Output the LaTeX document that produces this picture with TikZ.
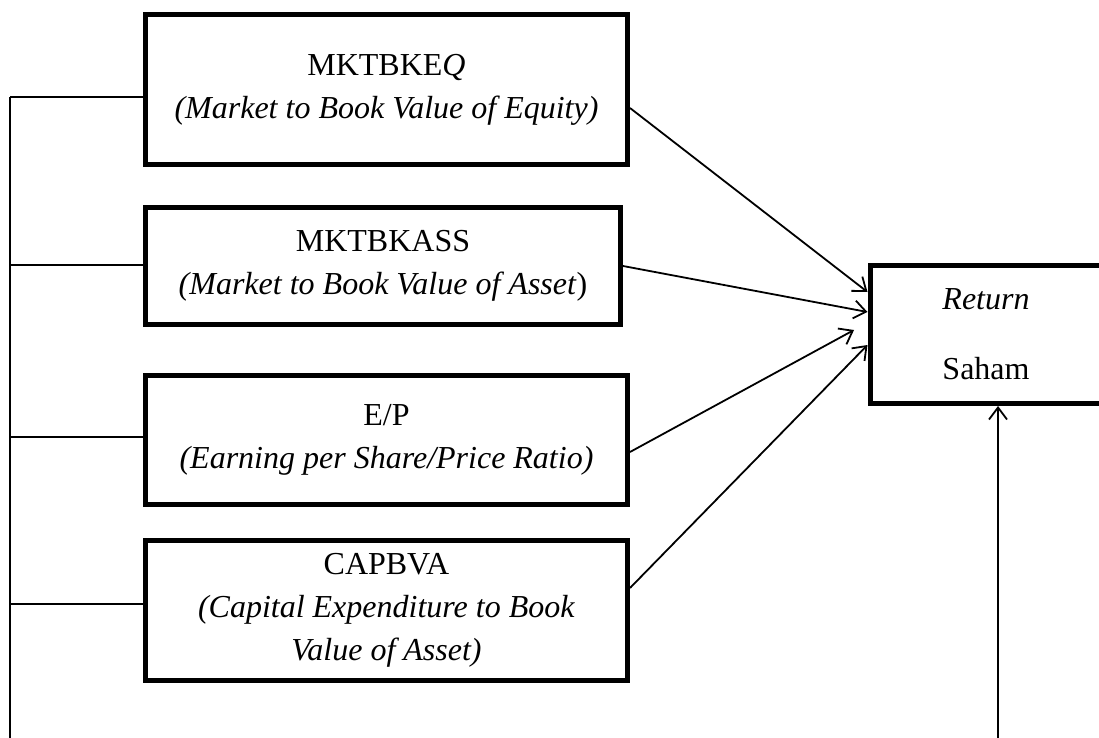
\documentclass[tikz,border=0pt]{standalone}
\usepackage{fontspec}
\setmainfont{Liberation Serif}
\usepackage{tikz}
\usetikzlibrary{arrows.meta}

\begin{document}
\begin{tikzpicture}[x=0.5pt,y=-0.5pt,
    varbox/.style={draw,line width=2.5pt,align=center,inner sep=0pt,
      font=\fontsize{16}{21.5}\selectfont,minimum width=#1},
    varbox/.default=241pt,
    link/.style={line width=0.9pt},
    flow/.style={line width=0.9pt,-{Straight Barb[length=6pt,width=9pt]}}]
  \clip (0,0) rectangle (1099,738);
  \useasboundingbox (0,0) rectangle (1099,738);
  % independent variables
  \node[varbox,minimum height=75pt] (mkteq) at (386.5,89.5)
    {MKTBKE\textit{Q}\\ \textit{(Market to Book Value of Equity)}};
  \node[varbox=237.5pt,minimum height=58.5pt] (mktass) at (383,266)
    {MKTBKASS\\ \textit{(Market to Book Value of Asset}\textup{)}};
  \node[varbox,minimum height=64.5pt] (ep) at (386.5,440)
    {E/P\\ \textit{(Earning per Share/Price Ratio)}};
  \node[varbox,minimum height=70pt] (capbva) at (386.5,610.5)
    {CAPBVA\\ \textit{(Capital Expenditure to Book}\\ \textit{Value of Asset)}};
  % dependent variable
  \node[varbox=116pt,minimum height=69pt] (ret) at (986,334.5)
    {\textit{Return}\\[13.5pt] Saham};
  % arrows into return
  \draw[flow] ([yshift=-9.25pt]mkteq.east) -- ([yshift=21.25pt]ret.west);
  \draw[flow] (mktass.east) -- ([yshift=11.25pt]ret.west);
  \draw[flow] ([yshift=-6pt]ep.east) -- ([xshift=-6.75pt,yshift=2.25pt]ret.west);
  \draw[flow] ([yshift=11.25pt]capbva.east) -- ([yshift=-5.25pt]ret.west);
  % left bracket line
  \coordinate (lefttop) at (10,97);
  \coordinate (leftbot) at (10,750);
  \draw[link] (lefttop) -- (leftbot);
  \draw[link] (lefttop) -- ([yshift=-3.75pt]mkteq.west);
  \foreach \n/\s in {mktass/0.5,ep/1.5,capbva/3.25}{
    \draw[link] (\n.west) ++(0,\s pt) coordinate (tmp) (tmp) -- (10,0 |- tmp);}
  % line from below into return
  \coordinate (rightbot) at (998,750);
  \draw[flow] (rightbot) -- (rightbot |- ret.south);
\end{tikzpicture}
\end{document}
